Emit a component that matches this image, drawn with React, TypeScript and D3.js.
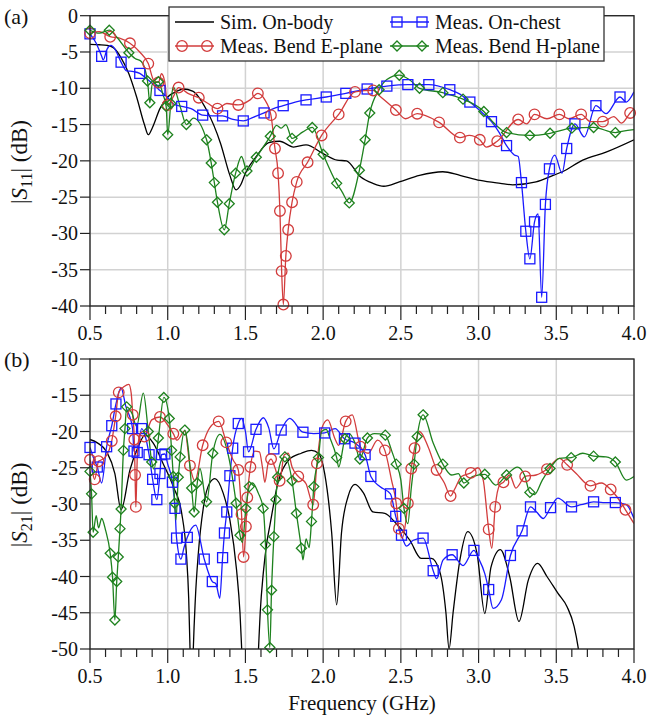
import React from 'react';
import * as d3 from 'd3';

type P = [number, number, number?];

// ---------- tick values / labels ----------
const freqMajor = [0.5, 1.0, 1.5, 2.0, 2.5, 3.0, 3.5, 4.0];
const freqMinor = d3.range(5, 41).map((d) => d / 10);
const s11Ticks = [0, -5, -10, -15, -20, -25, -30, -35, -40];
const s21Ticks = [-10, -15, -20, -25, -30, -35, -40, -45, -50];
const seriesNames = ['Sim. On-body', 'Meas. On-chest', 'Meas. Bend E-plane', 'Meas. Bend H-plane'];

// ---------- (a) |S11| data : [GHz, dB, marker?] ----------
const s11Sim: P[] = [
  [0.5, -3.95], [0.56, -4.0], [0.61, -4.1], [0.65, -4.4], [0.7, -5.8], [0.75, -8.0], [0.8, -11.2],
  [0.85, -15.0], [0.875, -16.4], [0.9, -15.5], [0.95, -12.8], [1.0, -11.2], [1.06, -10.4], [1.1, -10.1],
  [1.16, -10.4], [1.25, -13.0], [1.34, -17.6], [1.4, -22.0], [1.44, -24.0], [1.47, -23.3], [1.5, -21.7],
  [1.57, -19.4], [1.65, -17.5], [1.72, -17.3], [1.81, -18.1], [1.89, -17.8], [2.0, -19.0], [2.09, -19.9],
  [2.15, -20.0], [2.24, -22.2], [2.32, -23.1], [2.39, -23.5], [2.49, -22.9], [2.62, -22.0], [2.77, -21.5],
  [2.88, -22.0], [3.01, -22.7], [3.14, -23.1], [3.22, -23.3], [3.37, -22.9], [3.48, -22.0], [3.54, -21.5],
  [3.67, -19.9], [3.82, -18.8], [4.0, -17.1],
];
const s11Chest: P[] = [
  [0.5, -2.5, 1], [0.54, -3.8], [0.575, -5.6, 1], [0.585, -6.1], [0.61, -4.6], [0.635, -4.1], [0.66, -4.6],
  [0.7, -6.4, 1], [0.735, -7.6], [0.78, -7.7], [0.82, -7.95, 1], [0.86, -8.6], [0.95, -10.3, 1], [1.0, -11.3],
  [1.04, -12.2], [1.09, -12.5, 1], [1.15, -12.8], [1.225, -13.7, 1], [1.29, -13.8], [1.353, -13.8, 1],
  [1.42, -14.3], [1.486, -14.5, 1], [1.55, -14.0], [1.62, -13.4, 1], [1.68, -12.8], [1.743, -12.4, 1],
  [1.82, -11.9], [1.89, -11.6, 1], [2.02, -11.2, 1], [2.146, -10.7, 1], [2.283, -10.1, 1], [2.41, -9.7, 1],
  [2.545, -9.5, 1], [2.68, -9.5, 1], [2.815, -10.2, 1], [2.88, -10.8], [2.944, -11.9, 1], [3.02, -13.3],
  [3.083, -14.6, 1], [3.13, -16.0], [3.18, -17.9, 1], [3.23, -19.2], [3.255, -19.4], [3.276, -23.0, 1],
  [3.304, -29.7, 1], [3.33, -33.5, 1], [3.36, -28.4, 1], [3.383, -27.3], [3.406, -38.8, 1], [3.43, -26.0, 1],
  [3.456, -21.1, 1], [3.49, -19.2], [3.537, -21.7], [3.567, -18.3, 1], [3.62, -14.9, 1], [3.68, -16.7],
  [3.755, -12.4, 1], [3.82, -13.5], [3.91, -11.2, 1], [3.95, -11.9], [4.0, -10.5],
];
const s11E: P[] = [
  [0.5, -2.4, 1], [0.56, -2.2], [0.63, -2.9, 1], [0.69, -3.1], [0.757, -3.8, 1], [0.82, -5.0], [0.875, -6.6, 1],
  [0.91, -8.9], [0.94, -9.2, 1], [0.96, -8.0], [0.98, -9.0], [1.0, -12.3, 1], [1.035, -11.2], [1.07, -9.9, 1],
  [1.13, -10.7], [1.2, -11.3, 1], [1.26, -12.1], [1.32, -12.8, 1], [1.38, -12.1], [1.454, -12.3, 1],
  [1.53, -11.6], [1.58, -10.7, 1], [1.625, -11.6], [1.664, -13.7, 1], [1.69, -18.3, 1], [1.71, -21.7, 1],
  [1.722, -26.9, 1], [1.733, -35.2, 1], [1.744, -39.8, 1], [1.76, -33.1, 1], [1.775, -29.5, 1], [1.8, -25.7, 1],
  [1.83, -22.9, 1], [1.9, -20.2, 1], [1.99, -16.5, 1], [2.1, -13.6, 1], [2.205, -10.5, 1], [2.322, -10.3, 1],
  [2.36, -11.0], [2.468, -13.0, 1], [2.53, -14.2], [2.605, -13.5, 1], [2.746, -14.7, 1], [2.88, -16.8, 1],
  [2.94, -16.5], [3.008, -17.1, 1], [3.05, -18.1], [3.12, -17.3, 1], [3.255, -14.3, 1], [3.31, -14.9],
  [3.36, -13.6, 1], [3.44, -14.2], [3.52, -13.6, 1], [3.58, -14.2], [3.66, -13.6, 1], [3.72, -14.6],
  [3.8, -14.6, 1], [3.87, -13.9], [3.92, -14.8], [3.975, -13.4, 1], [4.0, -12.8],
];
const s11H: P[] = [
  [0.5, -2.0, 1], [0.56, -2.4], [0.624, -2.0, 1], [0.67, -2.9], [0.75, -5.1, 1], [0.79, -5.9], [0.83, -6.3],
  [0.87, -9.0, 1], [0.885, -12.0, 1], [0.9, -9.5], [0.94, -9.1, 1], [0.97, -10.9], [0.99, -12.5, 1],
  [1.0, -16.4, 1], [1.02, -12.1, 1], [1.035, -9.8], [1.08, -12.5], [1.12, -15.0, 1], [1.165, -14.1],
  [1.25, -17.1, 1], [1.28, -20.3, 1], [1.3, -23.0, 1], [1.32, -25.7, 1], [1.364, -29.5, 1], [1.396, -25.9, 1],
  [1.437, -21.7, 1], [1.475, -19.4], [1.51, -21.4, 1], [1.57, -19.5, 1], [1.66, -16.6, 1], [1.7, -15.1],
  [1.73, -15.5], [1.76, -15.0], [1.8, -16.9, 1], [1.87, -16.0], [1.93, -15.4, 1], [2.0, -19.1, 1],
  [2.087, -23.1, 1], [2.12, -24.2], [2.168, -25.8, 1], [2.233, -21.3, 1], [2.27, -17.1, 1], [2.3, -13.4, 1],
  [2.36, -10.2, 1], [2.41, -8.8], [2.49, -8.2, 1], [2.56, -8.9], [2.62, -10.0, 1], [2.77, -10.6, 1],
  [2.9, -11.5, 1], [3.034, -13.2, 1], [3.09, -14.6], [3.18, -16.1, 1], [3.33, -16.5, 1], [3.46, -16.2, 1],
  [3.6, -15.5, 1], [3.74, -15.4, 1], [3.88, -16.1, 1], [3.93, -15.9], [4.0, -15.7],
];

// ---------- (b) |S21| data ----------
const s21Sim: P[] = [
  [0.5, -21.1], [0.55, -21.6], [0.607, -22.8], [0.66, -25.8], [0.7, -30.8], [0.757, -25.3], [0.81, -22.1],
  [0.854, -20.5], [0.907, -21.6], [0.97, -24.4], [1.036, -27.6], [1.09, -31.3], [1.12, -36.8], [1.135, -43],
  [1.146, -52], [1.154, -60], [1.162, -52], [1.178, -43], [1.197, -36.8], [1.23, -30.4], [1.27, -27.1],
  [1.304, -26.5], [1.357, -28.5], [1.4, -32.2], [1.443, -39.1], [1.465, -45], [1.478, -51], [1.53, -70],
  [1.582, -51], [1.595, -45], [1.615, -39.5], [1.64, -35], [1.657, -33], [1.71, -27], [1.78, -23.9],
  [1.86, -23.0], [1.925, -22.6], [1.97, -23.0], [2.01, -25.8], [2.055, -34], [2.087, -43.9], [2.118, -34],
  [2.16, -29.0], [2.205, -27.3], [2.26, -28.5], [2.32, -31.1], [2.397, -31.3], [2.47, -32.7], [2.558, -35.0],
  [2.63, -37.5], [2.696, -37.5], [2.75, -39.3], [2.79, -45], [2.81, -50], [2.836, -45], [2.88, -37.7],
  [2.93, -33.8], [2.99, -36.8], [3.04, -45.1], [3.08, -38.7], [3.14, -36.3], [3.2, -40], [3.26, -46.2],
  [3.32, -40.5], [3.38, -38.2], [3.44, -40], [3.51, -42.3], [3.57, -44.2], [3.615, -46.9], [3.64, -49.7],
  [3.66, -53],
];
const s21Chest: P[] = [
  [0.5, -22.2, 1], [0.52, -23.5], [0.547, -24.9, 1], [0.575, -27.1], [0.607, -22.1, 1], [0.64, -19.2, 1],
  [0.667, -16.2, 1], [0.7, -14.0], [0.73, -16.5], [0.774, -19.6, 1], [0.783, -22.7, 1], [0.804, -22.9, 1],
  [0.832, -19.6, 1], [0.86, -21], [0.88, -23.2, 1], [0.903, -26.6, 1], [0.93, -29.4, 1], [0.95, -25.8, 1],
  [0.96, -23.2, 1], [0.982, -23.1, 1], [1.0, -24.5], [1.03, -27.0, 1], [1.047, -30.6, 1], [1.057, -34.7, 1],
  [1.085, -37.6, 1], [1.105, -36], [1.126, -34.6, 1], [1.18, -32.9], [1.235, -37.6, 1], [1.287, -40.7, 1],
  [1.31, -41], [1.335, -43.0], [1.353, -37.4, 1], [1.365, -34.0, 1], [1.38, -31.1, 1], [1.4, -26.1, 1],
  [1.418, -22.3, 1], [1.454, -18.9, 1], [1.475, -18.2], [1.5, -20], [1.52, -22.8, 1], [1.568, -19.7, 1],
  [1.615, -18.1], [1.65, -19.5], [1.683, -22.4, 1], [1.73, -19.8, 1], [1.785, -18.2], [1.87, -20.1, 1],
  [1.94, -20.3], [2.01, -20.2, 1], [2.077, -19.6], [2.137, -21.0, 1], [2.205, -21.6, 1], [2.27, -23.2, 1],
  [2.307, -26.2, 1], [2.365, -27.6], [2.433, -28.6, 1], [2.467, -31.7, 1], [2.504, -34.3, 1], [2.536, -35.8],
  [2.58, -35], [2.643, -34.7, 1], [2.708, -39.2, 1], [2.73, -40.3], [2.772, -37.7], [2.83, -37.0, 1],
  [2.9, -38.5], [2.97, -36.4, 1], [3.0, -37.5], [3.04, -39.6], [3.065, -41.8, 1], [3.093, -44.4],
  [3.147, -43.2], [3.205, -37.1, 1], [3.28, -33.7, 1], [3.334, -30.4, 1], [3.373, -31.1], [3.416, -32.0],
  [3.463, -30.5, 1], [3.51, -29.2], [3.598, -30.4, 1], [3.66, -30.1], [3.74, -29.7, 1], [3.8, -29.8],
  [3.88, -29.8, 1], [3.95, -30.1], [4.0, -32],
];
const s21E: P[] = [
  [0.5, -23.9, 1], [0.515, -25.5], [0.53, -26.6, 1], [0.555, -24.1, 1], [0.575, -23.9], [0.6, -23.5],
  [0.64, -21.3, 1], [0.665, -17.9, 1], [0.685, -14.6, 1], [0.72, -13.8], [0.75, -13.5], [0.765, -14.7],
  [0.775, -17.7, 1], [0.785, -21.1, 1], [0.79, -26.0, 1], [0.795, -30.4, 1], [0.8, -27], [0.805, -23],
  [0.82, -20.5], [0.85, -20.7, 1], [0.897, -18.4], [0.95, -18.0, 1], [0.993, -18.9], [1.036, -20.3, 1],
  [1.06, -21.2], [1.11, -19.9], [1.143, -24.7, 1], [1.175, -26.8], [1.225, -21.9, 1], [1.27, -19.5],
  [1.328, -18.6, 1], [1.377, -21.5, 1], [1.42, -23.9], [1.454, -25.3, 1], [1.475, -31.4, 1], [1.488, -37.3, 1],
  [1.503, -33.1, 1], [1.512, -29.1, 1], [1.532, -24.9, 1], [1.56, -22.7], [1.59, -22.8], [1.61, -25],
  [1.625, -27.0], [1.645, -24.5], [1.665, -23.8, 1], [1.69, -25], [1.72, -26.8, 1], [1.75, -23.2],
  [1.775, -23.0], [1.8, -24.9], [1.84, -26.2, 1], [1.89, -27.2], [1.936, -30.1, 1], [1.96, -24.4, 1],
  [1.99, -19.6], [2.03, -18.4], [2.076, -21], [2.1, -21.9], [2.145, -18.6, 1], [2.187, -17.7],
  [2.24, -22.1, 1], [2.29, -23.0], [2.35, -21.2], [2.397, -22.6, 1], [2.44, -26.7], [2.47, -29.9, 1],
  [2.487, -33.4, 1], [2.51, -34.7], [2.545, -29.9, 1], [2.567, -25.1, 1], [2.588, -22.3, 1], [2.62, -20.0],
  [2.675, -22.1], [2.73, -25.3, 1], [2.78, -27.1], [2.82, -28.9, 1], [2.845, -28.0], [2.89, -26.2],
  [2.95, -25.7, 1], [2.996, -25.0], [3.03, -26.7], [3.065, -33.5, 1], [3.085, -36.1], [3.107, -30.4, 1],
  [3.135, -27.4], [3.16, -27.0, 1], [3.2, -26.0], [3.24, -27.8], [3.3, -26.2, 1], [3.37, -26.0],
  [3.44, -25.2, 1], [3.52, -23.7], [3.57, -24.6, 1], [3.628, -25.8], [3.72, -27.5, 1], [3.79, -27.1],
  [3.85, -28.0, 1], [3.89, -29.0], [3.945, -30.8, 1], [4.0, -32.7],
];
const s21H: P[] = [
  [0.5, -25.5, 1], [0.51, -28.6, 1], [0.52, -33.9, 1], [0.54, -31.6], [0.555, -33.3], [0.575, -32.0],
  [0.6, -33.6], [0.63, -36.8, 1], [0.645, -40.1, 1], [0.66, -46.0, 1], [0.672, -40.7, 1], [0.682, -37.3, 1],
  [0.693, -33.4, 1], [0.7, -30.7, 1], [0.715, -22.6, 1], [0.725, -19.6, 1], [0.736, -16.6, 1], [0.77, -17.5],
  [0.8, -19.3], [0.843, -14.7], [0.875, -20.0, 1], [0.897, -24.2, 1], [0.912, -25.2], [0.94, -20.9, 1],
  [0.975, -15.3, 1], [1.01, -18.2, 1], [1.025, -22.6, 1], [1.036, -26.2, 1], [1.045, -29.9, 1], [1.053, -32.2],
  [1.068, -26.3, 1], [1.08, -23.5, 1], [1.11, -19.8, 1], [1.133, -22.5], [1.154, -27.8, 1], [1.17, -31.1, 1],
  [1.19, -27.1, 1], [1.207, -25.1], [1.25, -29.7, 1], [1.29, -23.0, 1], [1.336, -20.4], [1.39, -23.3],
  [1.44, -29.9, 1], [1.465, -34.3, 1], [1.48, -35.3], [1.503, -30.6, 1], [1.525, -27.6, 1], [1.545, -27.1],
  [1.583, -28.5], [1.614, -30.6, 1], [1.629, -35.6, 1], [1.642, -44.6, 1], [1.657, -49.8, 1], [1.668, -41.9, 1],
  [1.683, -34.5, 1], [1.696, -29.4, 1], [1.707, -26.3, 1], [1.733, -23.9], [1.754, -23.5, 1], [1.8, -26.8, 1],
  [1.828, -31.3, 1], [1.86, -36.1, 1], [1.87, -37.7], [1.89, -34.8], [1.91, -36.0], [1.925, -32.4, 1],
  [1.94, -27.6, 1], [1.97, -23.6, 1], [1.99, -20.0], [2.02, -19.7], [2.04, -20.7], [2.087, -23.6, 1],
  [2.1, -24.9], [2.14, -21.0, 1], [2.167, -20.3], [2.205, -21.6], [2.236, -23.8, 1], [2.285, -20.9, 1],
  [2.33, -20.3], [2.4, -20.5, 1], [2.44, -22.6], [2.47, -24.5, 1], [2.5, -26.7], [2.52, -30.6, 1],
  [2.545, -32.7], [2.567, -27.8], [2.585, -24.5, 1], [2.605, -20.7, 1], [2.643, -17.7, 1], [2.708, -21.6],
  [2.77, -24.5, 1], [2.826, -26.0], [2.87, -25.8], [2.905, -27.1, 1], [2.965, -26.2], [3.04, -25.9, 1],
  [3.11, -27.4], [3.18, -26.0, 1], [3.25, -24.9], [3.295, -26.0], [3.33, -28.4, 1], [3.36, -28.7],
  [3.41, -26.7], [3.46, -25.1, 1], [3.52, -23.7], [3.596, -23.6, 1], [3.67, -23.0], [3.74, -23.4, 1],
  [3.82, -23.5], [3.88, -24.2, 1], [3.95, -26.7], [4.0, -26.2],
];

// ---------- styling ----------
const FONT = "Liberation Serif, Times New Roman, Times, DejaVu Serif, serif";
const COLORS = ['#000000', '#1a1aff', '#d23c3c', '#1e821e'];
const SHAPES = ['none', 'square', 'circle', 'diamond'];
const X0 = 90;
const X1 = 634;

const xScale = d3.scaleLinear().domain([0.5, 4.0]).range([X0, X1]);

function Marker({ shape, x, y, color }: { shape: string; x: number; y: number; color: string }) {
  const common = { fill: 'none', stroke: color, strokeWidth: 1.3 };
  if (shape === 'square') return <rect x={x - 5} y={y - 5} width={10} height={10} {...common} />;
  if (shape === 'circle') return <circle cx={x} cy={y} r={5.3} {...common} />;
  if (shape === 'diamond')
    return <path d={`M${x},${y - 5}L${x + 5},${y}L${x},${y + 5}L${x - 5},${y}Z`} {...common} />;
  return null;
}

function Panel({
  id, top, bottom, domain, ticks, series, tag, ylabelCenter,
}: {
  id: string; top: number; bottom: number; domain: [number, number]; ticks: number[];
  series: P[][]; tag: string; ylabelCenter: number;
}) {
  const y = d3.scaleLinear().domain(domain).range([bottom, top]);
  const line = d3
    .line<P>()
    .x((d) => xScale(d[0]))
    .y((d) => y(d[1]))
    .curve(d3.curveMonotoneX);
  return (
    <g>
      <defs>
        <clipPath id={`clip-${id}`}>
          <rect x={X0} y={top} width={X1 - X0} height={bottom - top} />
        </clipPath>
      </defs>
      {freqMajor.map((f) => (
        <line key={`gx${f}`} x1={xScale(f)} x2={xScale(f)} y1={top} y2={bottom} stroke="#d2d2d2" strokeWidth={1.5} />
      ))}
      {ticks.map((t) => (
        <line key={`gy${t}`} x1={X0} x2={X1} y1={y(t)} y2={y(t)} stroke="#d2d2d2" strokeWidth={1.5} />
      ))}
      <g clipPath={`url(#clip-${id})`}>
        {series.map((s, i) => (
          <path key={`s${i}`} d={line(s) || ''} fill="none" stroke={COLORS[i]} strokeWidth={1.3} />
        ))}
      </g>
      {series.map((s, i) =>
        s
          .filter((d) => d[2])
          .map((d, j) => (
            <Marker key={`m${i}-${j}`} shape={SHAPES[i]} x={xScale(d[0])} y={y(d[1])} color={COLORS[i]} />
          ))
      )}
      <rect x={X0} y={top} width={X1 - X0} height={bottom - top} fill="none" stroke="#222" strokeWidth={1.3} />
      {freqMinor.map((f) => {
        const major = Math.abs(f * 2 - Math.round(f * 2)) < 1e-6;
        return (
          <line key={`tx${f}`} x1={xScale(f)} x2={xScale(f)} y1={bottom} y2={bottom + (major ? 14 : 8)} stroke="#222" strokeWidth={1.2} />
        );
      })}
      {freqMajor.map((f) => (
        <text key={`lx${f}`} x={xScale(f)} y={bottom + 34} textAnchor="middle" fontFamily={FONT} fontSize={20} fill="#111">
          {f.toFixed(1)}
        </text>
      ))}
      {ticks.map((t) => (
        <g key={`ty${t}`}>
          <line x1={X0 - 10} x2={X0} y1={y(t)} y2={y(t)} stroke="#222" strokeWidth={1.2} />
          <text x={X0 - 12} y={y(t)} dy="0.35em" textAnchor="end" fontFamily={FONT} fontSize={20} fill="#111">
            {t}
          </text>
        </g>
      ))}
      <text x={4} y={top + 8} fontFamily={FONT} fontSize={22} fill="#111">{tag}</text>
      <text
        transform={`translate(27,${ylabelCenter}) rotate(-90)`}
        textAnchor="middle"
        fontFamily={FONT}
        fontSize={23}
        fill="#111"
      >
        |<tspan fontStyle="italic">S</tspan>
        <tspan dy={5} fontSize={16}>{id === 'a' ? '11' : '21'}</tspan>
        <tspan dy={-5}>| (dB)</tspan>
      </text>
    </g>
  );
}

function Legend() {
  const rows = [
    { i: 0, x: 175, y: 22 },
    { i: 1, x: 390, y: 22 },
    { i: 2, x: 175, y: 46 },
    { i: 3, x: 390, y: 46 },
  ];
  return (
    <g>
      <rect x={169} y={7} width={435} height={54} fill="#fff" stroke="#333" strokeWidth={1.3} />
      {rows.map((r) => (
        <g key={r.i}>
          <line x1={r.x} x2={r.x + 39} y1={r.y} y2={r.y} stroke={COLORS[r.i]} strokeWidth={1.3} />
          <Marker shape={SHAPES[r.i]} x={r.x + 7} y={r.y} color={COLORS[r.i]} />
          <Marker shape={SHAPES[r.i]} x={r.x + 32} y={r.y} color={COLORS[r.i]} />
          <text x={r.x + 45} y={r.y} dy="0.35em" fontFamily={FONT} fontSize={20} fill="#111">
            {seriesNames[r.i]}
          </text>
        </g>
      ))}
    </g>
  );
}

export default function App() {
  return (
    <svg
      width={664}
      height={716}
      viewBox="0 0 664 716"
      style={{ position: 'absolute', left: 0, top: 0, background: '#fff' }}
    >
      <rect width={664} height={716} fill="#fff" />
      <Panel id="a" top={15.7} bottom={306} domain={[-40, 0]} ticks={s11Ticks}
        series={[s11Sim, s11Chest, s11E, s11H]} tag="(a)" ylabelCenter={162} />
      <Panel id="b" top={359} bottom={649} domain={[-50, -10]} ticks={s21Ticks}
        series={[s21Sim, s21Chest, s21E, s21H]} tag="(b)" ylabelCenter={505} />
      <Legend />
      <text x={(X0 + X1) / 2} y={710} textAnchor="middle" fontFamily={FONT} fontSize={21} fill="#111">
        Frequency (GHz)
      </text>
    </svg>
  );
}
